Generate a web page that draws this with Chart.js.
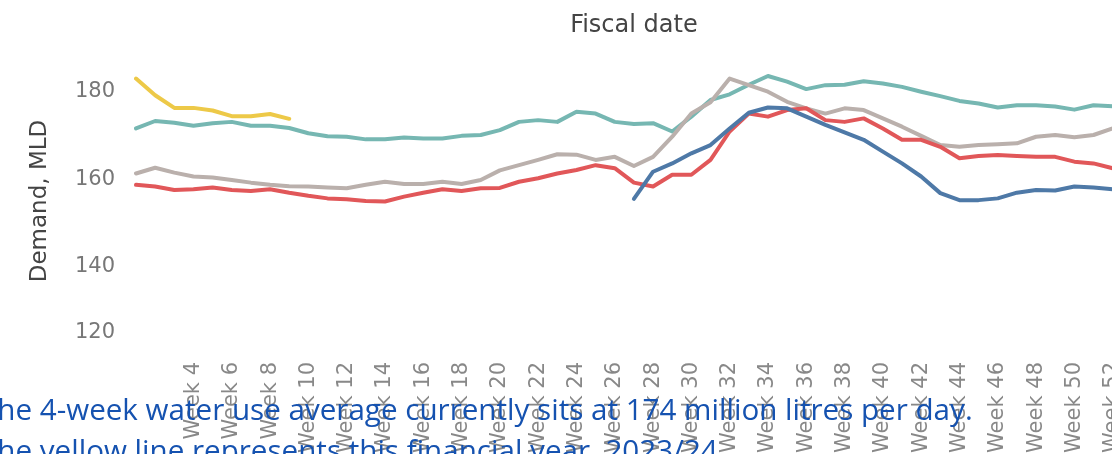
<!DOCTYPE html>
<html>
<head>
<meta charset="utf-8">
<script src="https://cdn.jsdelivr.net/npm/chart.js@4"></script>
<style>
  html, body { margin: 0; padding: 0; background: #fff; overflow: hidden; width: 1112px; height: 454px; }
  #wrap { position: absolute; left: 0; top: 0; width: 1157px; height: 454px; }
  #note {
    position: absolute; left: -19px; top: 388px;
    font-family: "Open Sans", sans-serif; font-size: 29.6px; line-height: 41px;
    color: #1552b0; white-space: nowrap;
  }
</style>
</head>
<body>
<div id="wrap"><canvas id="chart"></canvas></div>
<div id="note">The 4-week water use average currently sits at 174 million litres per day.<br>The yellow line represents this financial year, 2023/24.</div>
<script>
// --- Datos ---
const weekLabels = [
  'Week 1', 'Week 2', 'Week 3', 'Week 4', 'Week 5', 'Week 6', 'Week 7', 'Week 8', 'Week 9', 'Week 10',
  'Week 11', 'Week 12', 'Week 13', 'Week 14', 'Week 15', 'Week 16', 'Week 17', 'Week 18', 'Week 19', 'Week 20',
  'Week 21', 'Week 22', 'Week 23', 'Week 24', 'Week 25', 'Week 26', 'Week 27', 'Week 28', 'Week 29', 'Week 30',
  'Week 31', 'Week 32', 'Week 33', 'Week 34', 'Week 35', 'Week 36', 'Week 37', 'Week 38', 'Week 39', 'Week 40',
  'Week 41', 'Week 42', 'Week 43', 'Week 44', 'Week 45', 'Week 46', 'Week 47', 'Week 48', 'Week 49', 'Week 50',
  'Week 51', 'Week 52', 'Week 53'
];
const shownWeeks = [
  'Week 4', 'Week 6', 'Week 8', 'Week 10', 'Week 12', 'Week 14', 'Week 16', 'Week 18', 'Week 20', 'Week 22',
  'Week 24', 'Week 26', 'Week 28', 'Week 30', 'Week 32', 'Week 34', 'Week 36', 'Week 38', 'Week 40', 'Week 42',
  'Week 44', 'Week 46', 'Week 48', 'Week 50', 'Week 52'
];
const yTicks = [120, 140, 160, 180];

// 2023/24 (amarilla)
const fy2324 = [183.0, 179.2, 176.3, 176.3, 175.7, 174.4, 174.4, 174.9, 173.8];
// verde azulado
const fyTeal = [
  171.6, 173.3, 172.9, 172.2, 172.8, 173.1, 172.2, 172.2, 171.7, 170.5,
  169.8, 169.7, 169.1, 169.1, 169.5, 169.3, 169.3, 169.9, 170.1, 171.2,
  173.1, 173.5, 173.1, 175.4, 175.0, 173.1, 172.6, 172.8, 170.9, 174.3,
  178.1, 179.4, 181.6, 183.6, 182.3, 180.6, 181.5, 181.6, 182.4, 181.9,
  181.1, 180.0, 179.0, 177.9, 177.3, 176.4, 176.9, 176.9, 176.6, 175.9,
  176.9, 176.7, null
];
// gris
const fyGray = [
  161.3, 162.6, 161.5, 160.6, 160.4, 159.8, 159.2, 158.7, 158.4, 158.3,
  158.1, 157.9, 158.7, 159.4, 158.9, 158.9, 159.4, 158.9, 159.8, 162.0,
  163.2, 164.4, 165.7, 165.6, 164.4, 165.1, 163.0, 165.1, 169.7, 175.0,
  177.6, 183.0, 181.5, 180.0, 177.7, 176.2, 175.0, 176.2, 175.8, 173.9,
  172.0, 169.9, 167.8, 167.4, 167.8, 168.0, 168.2, 169.7, 170.1, 169.6,
  170.1, 171.6, null
];
// roja
const fyRed = [
  158.7, 158.3, 157.5, 157.7, 158.1, 157.5, 157.3, 157.7, 156.9, 156.2,
  155.6, 155.4, 155.0, 154.9, 156.0, 156.9, 157.7, 157.3, 157.9, 158.0,
  159.4, 160.2, 161.3, 162.1, 163.2, 162.5, 159.2, 158.3, 161.0, 161.0,
  164.4, 170.9, 175.0, 174.3, 175.8, 176.2, 173.5, 173.1, 173.9, 171.6,
  169.0, 169.0, 167.4, 164.8, 165.3, 165.5, 165.3, 165.1, 165.1, 164.0,
  163.6, 162.5, null
];
// azul (empieza en la semana 27)
const fyBlue = [
  null, null, null, null, null, null, null, null, null, null,
  null, null, null, null, null, null, null, null, null, null,
  null, null, null, null, null, null, 155.5, 161.7, 163.6, 165.9,
  167.8, 171.6, 175.2, 176.4, 176.2, 174.3, 172.4, 170.7, 169.0, 166.3,
  163.6, 160.6, 156.8, 155.2, 155.2, 155.6, 156.9, 157.5, 157.4, 158.3,
  158.1, 157.7, null
];

function serie(label, data, color) {
  return {
    label: label,
    data: data,
    borderColor: color,
    borderWidth: 4,
    pointRadius: 0,
    fill: false,
    tension: 0,
    borderJoinStyle: 'round',
    borderCapStyle: 'round',
    spanGaps: false
  };
}

const ctx = document.getElementById('chart').getContext('2d');
const chart = new Chart(ctx, {
  type: 'line',
  data: {
    labels: weekLabels,
    datasets: [
      serie('2023/24', fy2324, '#edc948'),
      serie('2019/20', fyBlue, '#4e79a7'),
      serie('2020/21', fyRed, '#e15759'),
      serie('2021/22', fyGray, '#bab0ac'),
      serie('2022/23', fyTeal, '#76b7b2')
    ]
  },
  options: {
    responsive: true,
    maintainAspectRatio: false,
    animation: false,
    layout: { padding: 0 },
    plugins: {
      legend: { display: false },
      tooltip: { enabled: false }
    },
    scales: {
      x: {
        type: 'category',
        position: 'bottom',
        grid: { display: false },
        border: { display: false },
        ticks: {
          autoSkip: false,
          minRotation: 90,
          maxRotation: 90,
          padding: 0,
          color: '#888',
          font: { family: 'DejaVu Sans', size: 21 },
          callback: function (value, index) {
            const lab = weekLabels[index];
            return shownWeeks.includes(lab) ? lab : '';
          }
        },
        afterFit: function (scale) { scale.height = 100; }
      },
      top: {
        type: 'linear',
        position: 'top',
        min: 0,
        max: 1,
        grid: { display: false },
        border: { display: false },
        ticks: { display: false },
        title: {
          display: true,
          text: 'Fiscal date',
          color: '#444',
          font: { family: 'DejaVu Sans', size: 24 },
          padding: { top: 11, bottom: 0 }
        },
        afterFit: function (scale) { scale.height = 48; }
      },
      y: {
        type: 'linear',
        min: 120,
        max: 190,
        grid: { display: false },
        border: { display: false },
        afterBuildTicks: function (scale) {
          scale.ticks = yTicks.map(v => ({ value: v }));
        },
        ticks: {
          padding: 13,
          color: '#777',
          font: { family: 'DejaVu Sans', size: 21, lineHeight: 1.0 },
          // la etiqueta 120 queda recortada hacia arriba, como en el original
          callback: function (value) {
            return value === 120 ? ['120', '', ''] : String(value);
          }
        },
        title: {
          display: true,
          text: 'Demand, MLD',
          color: '#444',
          font: { family: 'DejaVu Sans', size: 23 },
          padding: { top: 26, bottom: 0 }
        },
        afterFit: function (scale) { scale.width = 136; }
      }
    }
  }
});
</script>
</body>
</html>
